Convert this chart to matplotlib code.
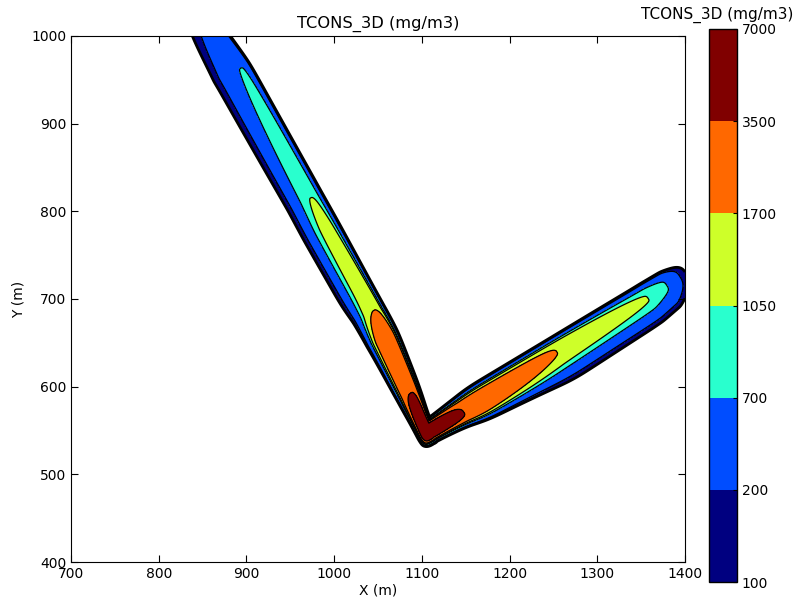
import numpy as np
import matplotlib
matplotlib.use("Agg")
import matplotlib.pyplot as plt
from matplotlib.colors import BoundaryNorm

# ---- chart values ----
LEVELS = [100, 200, 700, 1050, 1700, 3500, 7000]
LEVEL_LABELS = ["100", "200", "700", "1050", "1700", "3500", "7000"]
X_TICKS = [700, 800, 900, 1000, 1100, 1200, 1300, 1400]
Y_TICKS = [400, 500, 600, 700, 800, 900, 1000]
TITLE = "TCONS_3D (mg/m3)"

# Left (up-left) arm of the plume: source point, direction point, and
# along-axis profiles (distance s, peak conc., peak offset, widths, shape)
LEFT_ORIGIN = (1113.0, 548.0)
LEFT_TOWARD = (860.0, 1000.0)
LEFT_S = [-12, -8, 0, 16, 50, 121, 153, 168, 264, 301, 471, 530, 570]
LEFT_PEAK = [40, 3000, 8000, 6000, 3500, 3000, 1700, 1620, 1250, 1050, 700, 300, 80]
LEFT_OFFSET = [6, 6, 6, 5, 0, -7, -8.5, -8.8, -7, -8, -11.3, -6, -6]
LEFT_W_OUT = [9, 9, 9, 9.3, 13.5, 17.2, 17.8, 17.9, 18.2, 19, 24.3, 24, 24]
LEFT_W_IN = [6, 6, 6, 6.3, 8.3, 10.6, 10.3, 10, 12.6, 12, 10.1, 10, 10]
LEFT_P_OUT = [4, 4, 4, 4, 4, 3.2, 2.5, 2, 2, 2, 2, 2, 2]
LEFT_P_IN = [4, 4, 4, 4, 4, 4, 4, 4, 4, 4, 4, 4, 4]

# Right (up-right) arm of the plume
RIGHT_ORIGIN = (1108.0, 548.0)
RIGHT_TOWARD = (1397.0, 722.0)
RIGHT_S = [-6, -2, 0, 45, 60, 172, 294, 320, 337, 350]
RIGHT_PEAK = [40, 3000, 8000, 3500, 3210, 1700, 1050, 700, 200, 60]
RIGHT_OFFSET = [0, 0, 0, -2, -3, 2.4, 0, 2, 2, 2]
RIGHT_W_IN = [9, 9, 9, 15, 17.7, 14.3, 16.8, 16, 16, 16]
RIGHT_W_OUT = [8, 8, 8, 10, 12.9, 21.5, 19.4, 19, 19, 19]
RIGHT_P_IN = [4, 4, 4, 4, 4, 4, 4, 4, 4, 4]
RIGHT_P_OUT = [3, 3, 3, 3, 3, 2, 2, 2, 2, 2]


def smooth_profile(s_k, v_k, sigma):
    step = 0.5
    s_f = np.arange(s_k[0], s_k[-1] + step, step)
    v = np.interp(s_f, s_k, v_k)
    if sigma > 0:
        h = int(4 * sigma / step)
        k = np.exp(-0.5 * (np.arange(-h, h + 1) * step / sigma) ** 2)
        k /= k.sum()
        v = np.convolve(np.pad(v, h, mode='edge'), k, mode='valid')
    return s_f, v


def arm_field(X, Y, origin, toward, s_k, peak_k, off_k, wpos_k, wneg_k, ppos_k, pneg_k):
    ox, oy = origin
    ux, uy = toward[0] - ox, toward[1] - oy
    L = np.hypot(ux, uy)
    ux, uy = ux / L, uy / L
    vx, vy = -uy, ux
    dx, dy = X - ox, Y - oy
    s = dx * ux + dy * uy
    n = dx * vx + dy * vy

    def prof(v_k, sigma):
        sf, vf = smooth_profile(s_k, v_k, sigma)
        return np.interp(s, sf, vf)

    P = np.exp(prof(np.log(peak_k), 2.0))
    n0 = prof(off_k, 12.0)
    d = n - n0
    w = np.where(d >= 0, prof(wpos_k, 12.0), prof(wneg_k, 12.0))
    p = np.where(d >= 0, prof(ppos_k, 12.0), prof(pneg_k, 12.0))
    C = P * np.exp(-(np.abs(d) / w) ** p)
    C[(s < s_k[0]) | (s > s_k[-1])] = 0.0
    return C


x = np.linspace(700, 1400, 1401)
y = np.linspace(400, 1000, 1201)
X, Y = np.meshgrid(x, y)
Z = np.maximum(
    arm_field(X, Y, LEFT_ORIGIN, LEFT_TOWARD, LEFT_S, LEFT_PEAK, LEFT_OFFSET,
              LEFT_W_OUT, LEFT_W_IN, LEFT_P_OUT, LEFT_P_IN),
    arm_field(X, Y, RIGHT_ORIGIN, RIGHT_TOWARD, RIGHT_S, RIGHT_PEAK, RIGHT_OFFSET,
              RIGHT_W_IN, RIGHT_W_OUT, RIGHT_P_IN, RIGHT_P_OUT),
)
Z = np.minimum(Z, LEVELS[-1] - 1)

plt.rcParams['font.family'] = ['DejaVu Sans']
plt.rcParams['font.size'] = 10

fig = plt.figure(figsize=(8.01, 6.01), dpi=100)
ax = fig.add_axes([71 / 801, 1 - 562 / 601, 614 / 801, 526 / 601])
cmap = plt.get_cmap('jet')
norm = BoundaryNorm(LEVELS, ncolors=cmap.N)
cf = ax.contourf(X, Y, Z, levels=LEVELS, cmap=cmap, norm=norm)
ax.contour(X, Y, Z, levels=LEVELS[:-1], colors='black',
           linewidths=[2.0, 1.0, 0.9, 0.9, 0.9, 0.9])
ax.set_xlim(700, 1400)
ax.set_ylim(400, 1000)
ax.set_xticks(X_TICKS)
ax.set_yticks(Y_TICKS)
ax.tick_params(direction='in', top=True, right=True, length=5, width=0.8, labelsize=10)
ax.set_xlabel("X (m)", labelpad=2)
ax.set_ylabel("Y (m)", labelpad=4)
ax.set_title(TITLE, fontsize=11.7, pad=6)

cax = fig.add_axes([709 / 801, 1 - 582 / 601, 28 / 801, 553 / 601])
cb = fig.colorbar(cf, cax=cax, ticks=LEVELS)
cb.ax.set_yticklabels(LEVEL_LABELS)
cb.ax.tick_params(direction='in', length=3, labelsize=10)
cb.outline.set_linewidth(1.0)
cb.ax.set_title(TITLE, fontsize=11, pad=7, x=0.3)

fig.savefig("out.png", dpi=100)
